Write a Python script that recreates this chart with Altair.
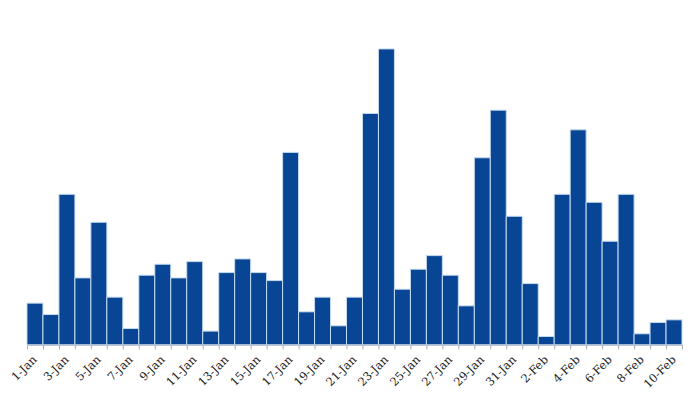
import altair as alt
import pandas as pd

days = ["1-Jan", "2-Jan", "3-Jan", "4-Jan", "5-Jan", "6-Jan", "7-Jan", "8-Jan", "9-Jan", "10-Jan",
        "11-Jan", "12-Jan", "13-Jan", "14-Jan", "15-Jan", "16-Jan", "17-Jan", "18-Jan", "19-Jan", "20-Jan",
        "21-Jan", "22-Jan", "23-Jan", "24-Jan", "25-Jan", "26-Jan", "27-Jan", "28-Jan", "29-Jan", "30-Jan",
        "31-Jan", "1-Feb", "2-Feb", "3-Feb", "4-Feb", "5-Feb", "6-Feb", "7-Feb", "8-Feb", "9-Feb", "10-Feb"]
values = [41.7, 30.3, 150.7, 67, 122.7, 47.7, 16.3, 69.7, 80.7, 67,
          83.3, 13.7, 72.3, 86, 72.3, 64.3, 192.7, 33, 47.7, 19,
          47.7, 231.7, 296.3, 55.7, 75.7, 89.3, 69.7, 39, 187.3, 235,
          128.7, 61.3, 8.3, 150.7, 215.3, 142.7, 103.7, 150.7, 11, 22.3, 25]

df = pd.DataFrame({"idx": list(range(len(days))), "day": days, "value": values})

label_arr = "[" + ",".join("'" + d + "'" for d in days) + "]"
label_expr = f"datum.value % 2 == 0 ? {label_arr}[datum.value] : ''"

chart = alt.Chart(df).mark_bar(
    color="#084594", stroke="#c6dbef", strokeWidth=1
).encode(
    x=alt.X("idx:O", title=None,
            scale=alt.Scale(paddingInner=0, paddingOuter=0),
            axis=alt.Axis(labelExpr=label_expr, labelAngle=-45, labelAlign="right",
                          labelBaseline="middle", labelFont="DejaVu Serif", labelFontSize=11.5,
                          labelColor="#222", tickBand="extent", tickSize=4, tickColor="#aaa",
                          domainColor="#aaa", labelPadding=9, labelOverlap=False)),
    y=alt.Y("value:Q", scale=alt.Scale(domain=[0, 337], nice=False), axis=None),
    tooltip=["day", "value"],
).properties(
    width=656, height=337,
    autosize=alt.AutoSizeParams(type="none"),
    padding={"left": 19, "top": 0, "right": 10, "bottom": 55},
).configure_view(stroke=None)

chart.save("out.html", embed_options={"renderer": "svg", "actions": False})
